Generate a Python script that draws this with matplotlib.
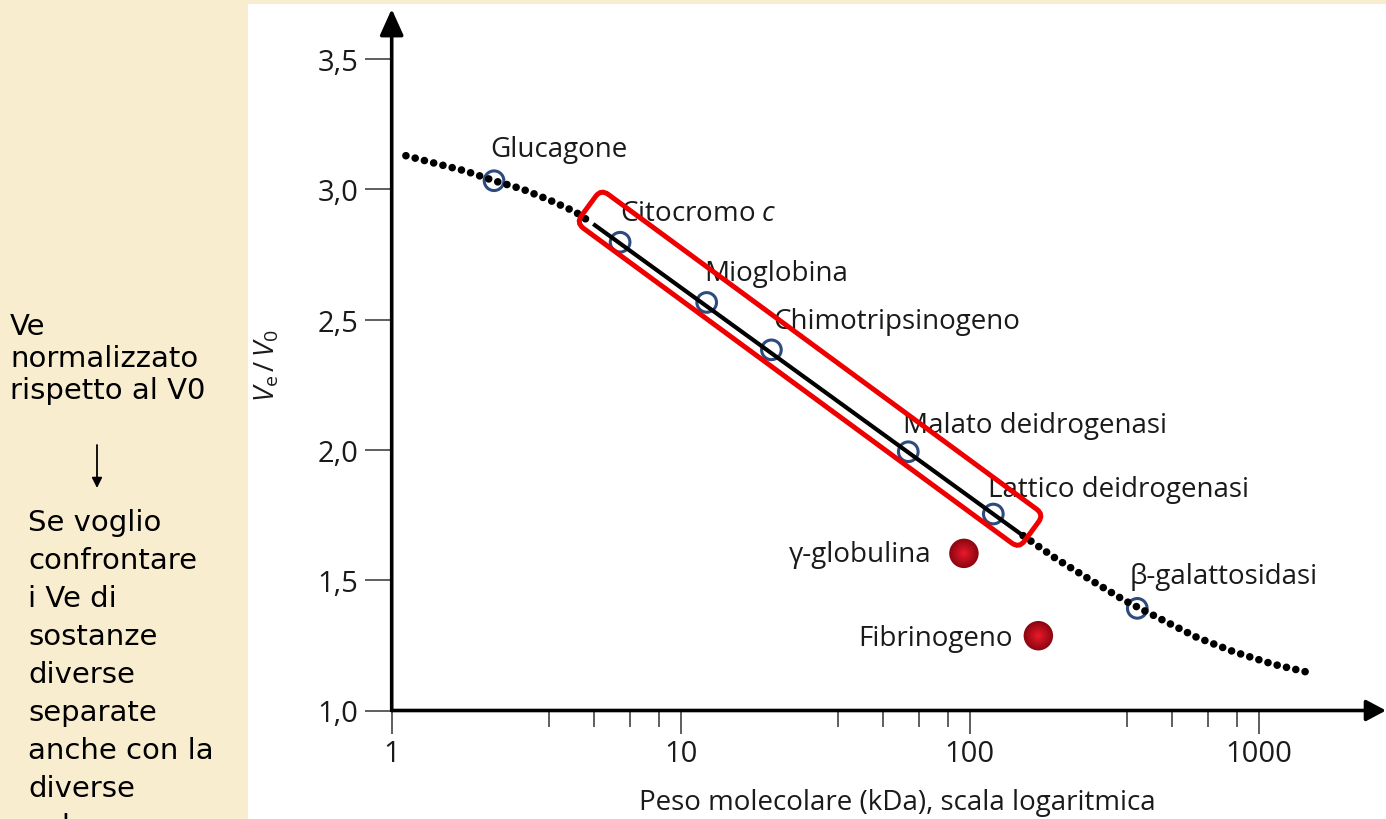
import numpy as np
import matplotlib
matplotlib.use('Agg')
import matplotlib.pyplot as plt
from matplotlib.patches import FancyBboxPatch, FancyArrowPatch, Rectangle
from matplotlib.transforms import Affine2D
from matplotlib.ticker import NullFormatter
from matplotlib.colors import to_rgb

plt.rcParams['font.family'] = ['Open Sans', 'DejaVu Sans']
plt.rcParams['mathtext.fontset'] = 'custom'
plt.rcParams['mathtext.rm'] = 'Open Sans'
plt.rcParams['mathtext.it'] = 'Open Sans:italic'

# proteine standard (cerchi vuoti)
std_names = ['Glucagone', 'Citocromo $c$', 'Mioglobina', 'Chimotripsinogeno',
             'Malato deidrogenasi', 'Lattico deidrogenasi', 'β-galattosidasi']
std_mw = [2.26, 6.17, 12.3, 20.6, 61.3, 120.7, 380]
std_ve = [3.033, 2.797, 2.566, 2.384, 1.993, 1.754, 1.392]

# proteine che escono fuori curva (cerchi pieni)
odd_names = ['γ-globulina', 'Fibrinogeno']
odd_mw = [95.5, 172.8]
odd_ve = [1.603, 1.287]

# curva di taratura: tratto iniziale, retta, tratto finale
curve_left_mw = [1.12, 1.41, 1.79, 2.26, 2.83, 3.51, 4.31, 4.98]
curve_left_ve = [3.129, 3.100, 3.071, 3.033, 3.001, 2.959, 2.914, 2.867]
fit_mw = [4.98, 153]
fit_ve = [2.867, 1.671]
curve_right_mw = [153, 200, 261, 345, 458, 610, 817, 1118, 1514]
curve_right_ve = [1.671, 1.581, 1.502, 1.421, 1.351, 1.281, 1.226, 1.178, 1.144]

x_ticks = [1, 10, 100, 1000]
x_minor = [m * 10 ** k for k in range(3) for m in (3.5, 5, 6.7, 8.4)]
y_ticks = [1.0, 1.5, 2.0, 2.5, 3.0, 3.5]

# offset delle etichette (pixel) rispetto al punto
std_offsets = [(-4, 25), (0, 22), (-2, 22), (2, 22), (-5, 20), (-5, 18), (-8, 25)]
odd_offsets = [(-32, -8), (-26, -9)]

# asse del riquadro rosso (estremi in coordinate dati)
box_ends = [(4.80, 2.936), (163.6, 1.687)]

W, H = 1386, 820
fig = plt.figure(figsize=(W / 100, H / 100), dpi=100)
fig.patch.set_facecolor('#F9EDD0')
fig.add_artist(Rectangle((248 / W, 0), 1 - 248 / W, 1 - 5 / H, transform=fig.transFigure,
                         facecolor='white', edgecolor='none', zorder=-1))

ax = fig.add_axes([391.7 / W, 1 - 711.5 / H, 1 - 391.7 / W, (711.5 - 10) / H])
ax.set_facecolor('none')
ax.set_xscale('log')
ax.set_xlim(1, 2757)
ax.set_ylim(1.0, 3.692)
for s in ax.spines.values():
    s.set_visible(False)

ax.set_xticks(x_ticks)
ax.set_xticklabels([str(v) for v in x_ticks])
ax.set_xticks(x_minor, minor=True)
ax.xaxis.set_minor_formatter(NullFormatter())
ax.set_yticks(y_ticks)
ax.set_yticklabels([f'{v:.1f}'.replace('.', ',') for v in y_ticks])
ax.tick_params(axis='x', which='major', length=16.5, width=1.1, color='#333333',
               labelsize=21, pad=4, labelcolor='#1a1a1a')
ax.tick_params(axis='x', which='minor', length=11.5, width=1.1, color='#333333')
ax.tick_params(axis='y', length=19.5, width=1.1, color='#333333', labelsize=21,
               pad=4.5, labelcolor='#1a1a1a')

# assi con frecce
ax.annotate('', xy=(0, 1), xytext=(0, 0), xycoords='axes fraction',
            arrowprops=dict(arrowstyle='-|>,head_length=1.0,head_width=0.45', color='k',
                            lw=2.6, shrinkA=0, shrinkB=0, mutation_scale=16),
            annotation_clip=False)
ax.annotate('', xy=(1, 0), xytext=(0, 0), xycoords='axes fraction',
            arrowprops=dict(arrowstyle='-|>,head_length=0.75,head_width=0.4', color='k',
                            lw=2.6, shrinkA=0, shrinkB=0, mutation_scale=16),
            annotation_clip=False)

# curva
dots = dict(color='k', lw=5.5, ls=(0, (0.001, 1.25)), dash_capstyle='round', zorder=4)
ax.plot(curve_left_mw, curve_left_ve, **dots)
ax.plot(curve_right_mw, curve_right_ve, **dots)
ax.plot(fit_mw, fit_ve, color='k', lw=3, solid_capstyle='butt', zorder=4)

ax.scatter(std_mw, std_ve, s=200, facecolors='none', edgecolors='#2D4B7E',
           linewidths=2.2, zorder=3)

# sfere rosse sfumate
dark, light = np.array(to_rgb('#8E0610')), np.array(to_rgb('#E6182A'))
for f in np.linspace(0, 1, 10):
    ax.scatter(odd_mw, odd_ve, s=450 * (1 - 0.9 * f) ** 2, color=dark + (light - dark) * f,
               edgecolors='none', zorder=5)

for name, x, y, off in zip(std_names, std_mw, std_ve, std_offsets):
    ax.annotate(name, (x, y), xytext=off, textcoords='offset pixels', fontsize=20,
                ha='left', va='baseline', color='#1a1a1a', zorder=6)
for name, x, y, off in zip(odd_names, odd_mw, odd_ve, odd_offsets):
    ax.annotate(name, (x, y), xytext=off, textcoords='offset pixels', fontsize=20,
                ha='right', va='baseline', color='#1a1a1a', zorder=6)

# etichette degli assi
ax.text((267 - 391.7) / (W - 391.7), (711.5 - 366) / 701.5, r'$V_{\mathrm{e}}\,/\,V_0$',
        transform=ax.transAxes, rotation=90, ha='center', va='center', fontsize=20,
        color='#1a1a1a')
fig.text(897 / W, 1 - 803 / H, 'Peso molecolare (kDa), scala logaritmica', ha='center',
         va='center', fontsize=20, color='#1a1a1a')

# riquadro rosso attorno al tratto lineare
p1 = ax.transData.transform(box_ends[0])
p2 = ax.transData.transform(box_ends[1])
d = p2 - p1
L = np.hypot(*d)
box = FancyBboxPatch((-L / 2, -21), L, 42, boxstyle='round,pad=0,rounding_size=9',
                     transform=Affine2D().rotate(np.arctan2(d[1], d[0])).translate(*(p1 + p2) / 2),
                     fill=False, ec='#EE0000', lw=3.6, zorder=10)
fig.add_artist(box)

# note a sinistra
note1 = ['Ve', 'normalizzato', 'rispetto al V0']
note1_y = [335, 367, 399]
note2 = ['Se voglio', 'confrontare', 'i Ve di', 'sostanze', 'diverse', 'separate',
         'anche con la', 'diverse', 'colonne']
note2_y = [531 + 38 * i for i in range(len(note2))]
for t, y in zip(note1, note1_y):
    fig.text(10 / W, 1 - y / H, t, fontsize=21, va='baseline', family='DejaVu Sans')
for t, y in zip(note2, note2_y):
    fig.text(28 / W, 1 - y / H, t, fontsize=21, va='baseline', family='DejaVu Sans')
fig.add_artist(FancyArrowPatch((97 / W, 1 - 446 / H), (97 / W, 1 - 489 / H),
                               transform=fig.transFigure,
                               arrowstyle='-|>,head_length=6,head_width=3',
                               color='k', lw=1.3, shrinkA=0, shrinkB=0))

fig.savefig('out.png', dpi=100)
